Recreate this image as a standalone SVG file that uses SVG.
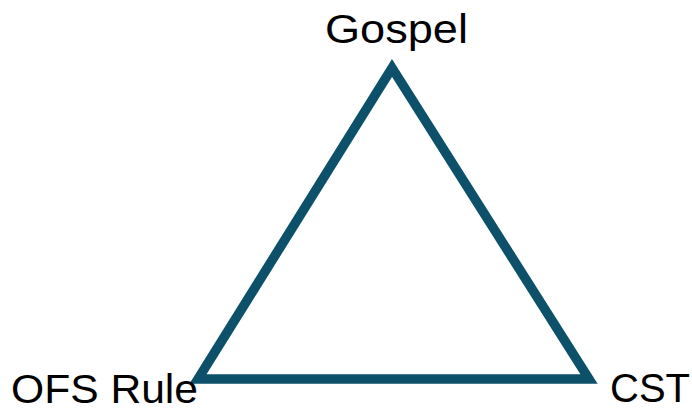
<svg xmlns="http://www.w3.org/2000/svg" width="692" height="411" viewBox="0 0 692 411">
<style>
.lbl{font-family:"Liberation Sans",Arial,sans-serif;font-size:41px;fill:#000}
.tri{fill:none;stroke:#0C5069;stroke-width:9.5;stroke-linejoin:miter}
</style>
<rect width="692" height="411" fill="#fff"/>
<g id="triangle"><polygon class="tri" points="392,68 198,379 589,379"/></g>
<g id="gospel"><text class="lbl" x="325" y="43" textLength="143" lengthAdjust="spacingAndGlyphs">Gospel</text></g>
<g id="ofs"><text class="lbl" x="11" y="403" textLength="187" lengthAdjust="spacingAndGlyphs">OFS Rule</text></g>
<g id="cst"><text class="lbl" x="610" y="402" textLength="80" lengthAdjust="spacingAndGlyphs">CST</text></g>
</svg>
